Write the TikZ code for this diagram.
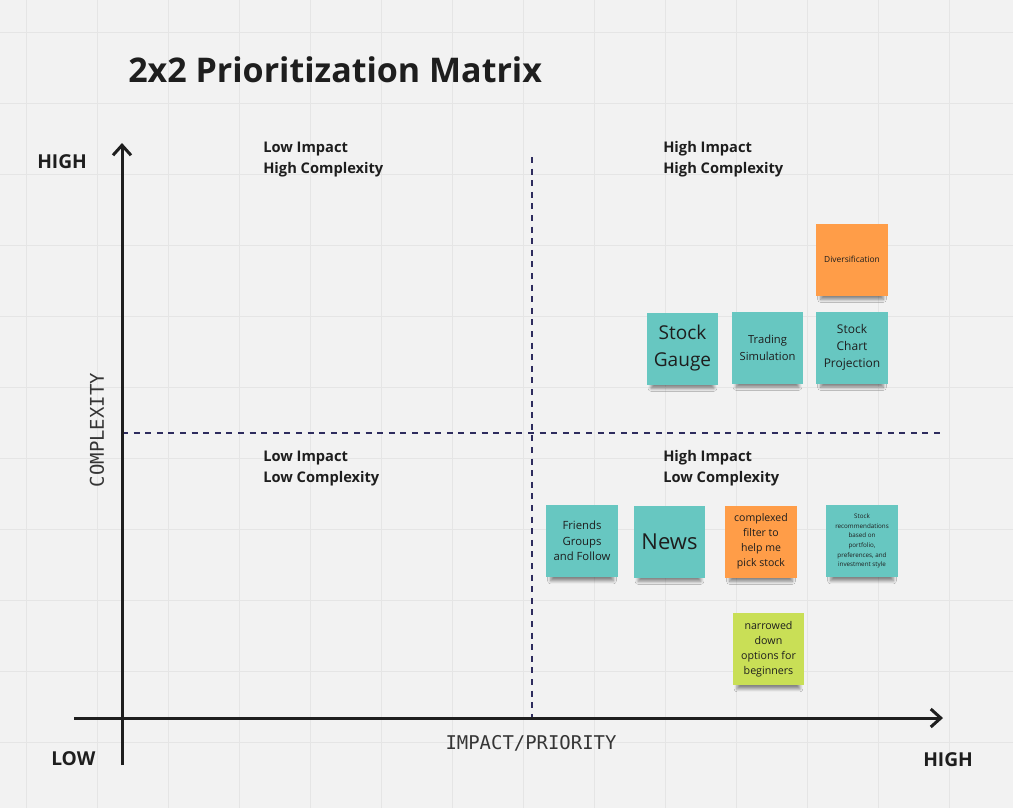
\documentclass[tikz,border=0pt]{standalone}
\usepackage{fontspec}
\setmainfont{Open Sans}
\setmonofont{DejaVu Sans Mono}
\usetikzlibrary{arrows.meta,shadows.blur}

\definecolor{paper}{HTML}{F2F2F2}
\definecolor{gridline}{HTML}{E5E5E5}
\definecolor{ink}{HTML}{1E1E1E}
\definecolor{navy}{HTML}{2E2C5E}
\definecolor{noteteal}{HTML}{67C7C1}
\definecolor{noteorange}{HTML}{FF9D48}
\definecolor{notelime}{HTML}{C9DF56}

\tikzset{
  axis/.style={draw=ink, line width=2.25pt, -{Straight Barb[length=7.5pt, width=13.5pt]}},
  divider/.style={draw=navy, line width=1.4pt, dash pattern=on 4.5pt off 4.2pt},
  heading/.style={anchor=base west, inner sep=0pt, text=ink, font=\bfseries\fontsize{25.5}{30}\selectfont},
  endlabel/.style={anchor=base west, inner sep=0pt, text=ink, font=\bfseries\fontsize{14.4}{17}\selectfont},
  quadlabel/.style={anchor=base west, inner sep=0pt, text=ink, align=left, font=\bfseries\fontsize{11}{15.75}\selectfont},
  axislabel/.style={inner sep=0pt, text=ink!90, font=\ttfamily\fontsize{14.2}{17}\selectfont},
  note/.style={minimum width=53.5pt, minimum height=54pt, inner sep=1pt, align=center, text=ink,
    blur shadow={shadow xshift=0pt, shadow yshift=-7pt, shadow scale=0.88,
      shadow blur steps=8, shadow blur radius=2.5pt, shadow opacity=45}},
  tealnote/.style={note, fill=noteteal},
  orangenote/.style={note, fill=noteorange},
  limenote/.style={note, fill=notelime},
}

\begin{document}
\begin{tikzpicture}[x=0.75pt, y=-0.75pt]
  % canvas and board grid
  \fill[paper] (0,0) rectangle (1013,808);
  \useasboundingbox (0,0) rectangle (1013,808);
  \foreach \gx in {26,97,...,949} \draw[gridline, line width=0.75pt] (\gx,0) -- (\gx,808);
  \foreach \gy in {32,103,...,742} \draw[gridline, line width=0.75pt] (0,\gy) -- (1013,\gy);

  % title
  \node[heading] (title) at (128,82) {2x2 Prioritization Matrix};

  % quadrant dividers
  \coordinate (vtop) at (532,157);
  \coordinate (vbot) at (532,718);
  \coordinate (hleft) at (122,433);
  \coordinate (hright) at (943,433);
  \draw[divider] (vtop) -- (vbot);
  \draw[divider] (hleft) -- (hright);

  % axes
  \coordinate (ylow) at (122,765);
  \coordinate (yhigh) at (122,143);
  \coordinate (xlow) at (74,718);
  \coordinate (xhigh) at (943,718);
  \draw[axis] (ylow) -- (yhigh);
  \draw[axis] (xlow) -- (xhigh);

  % axis end labels
  \node[endlabel] (yhighlbl) at (37,168) {HIGH};
  \node[endlabel] (lowlbl) at (51,765) {LOW};
  \node[endlabel] (xhighlbl) at (923,766) {HIGH};

  % axis titles
  \node[axislabel, rotate=90] (ytitle) at (97,430) {COMPLEXITY};
  \node[axislabel] (xtitle) at (531,743) {IMPACT/PRIORITY};

  % quadrant labels (anchored on the baseline of their second line)
  \node[quadlabel] (q1) at (263,173) {Low Impact\\High Complexity};
  \node[quadlabel] (q2) at (663,173) {High Impact\\High Complexity};
  \node[quadlabel] (q3) at (263,482) {Low Impact\\Low Complexity};
  \node[quadlabel] (q4) at (663,482) {High Impact\\Low Complexity};

  % sticky notes: high impact, high complexity
  \node[orangenote, font=\fontsize{6.3}{8}\selectfont] (divers) at (852,259.5) {Diversification};
  \node[tealnote, font=\fontsize{14.3}{20.25}\selectfont] (gauge) at (682.5,348.5) {Stock\\Gauge};
  \node[tealnote, font=\fontsize{8.4}{12.5}\selectfont] (trading) at (767.5,347.5) {Trading\\Simulation};
  \node[tealnote, font=\fontsize{9}{13}\selectfont] (chart) at (852,347.5) {Stock\\Chart\\Projection};

  % sticky notes: high impact, low complexity
  \node[tealnote, font=\fontsize{8.5}{11.8}\selectfont] (friends) at (582,541) {Friends\\Groups\\and Follow};
  \node[tealnote, font=\fontsize{16.5}{20}\selectfont] (news) at (669.5,541.5) {News};
  \node[orangenote, font=\fontsize{7.9}{11.25}\selectfont] (filter) at (761,541.5) {complexed\\filter to\\help me\\pick stock};
  \node[tealnote, font=\fontsize{4.7}{7.3}\selectfont] (recs) at (862,541) {Stock\\recommendations\\based on\\portfolio,\\preferences, and\\investment style};
  \node[limenote, font=\fontsize{8}{11.25}\selectfont] (narrow) at (768.5,649) {narrowed\\down\\options for\\beginners};
\end{tikzpicture}
\end{document}
